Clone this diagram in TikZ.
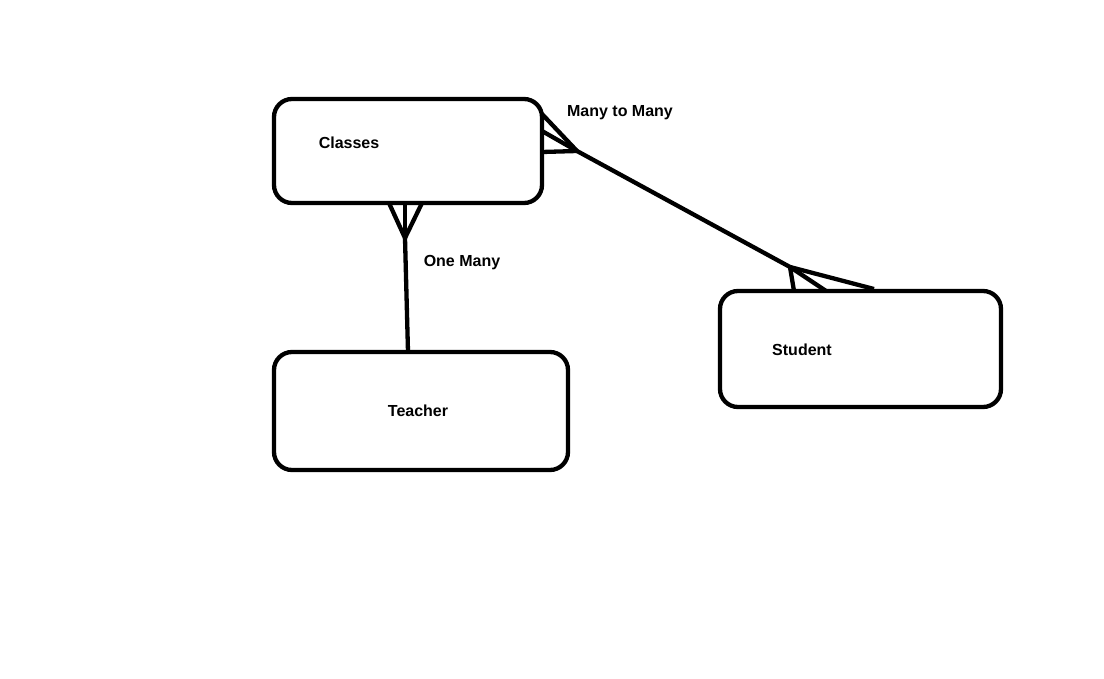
\documentclass[tikz,border=0pt]{standalone}
\usepackage{fontspec}
\setmainfont{Liberation Sans}
\begin{document}
\begin{tikzpicture}[x=1pt,y=-1pt,
  ent/.style={draw=black,line width=4.3pt,rounded corners=18pt,inner sep=0pt},
  lbl/.style={font=\fontsize{16}{19}\selectfont\bfseries,inner sep=0pt},
  conn/.style={line width=4.3pt,line cap=butt}]
\useasboundingbox[fill=white] (0,0) rectangle (1104,679);
% entities
\node[ent,minimum width=268pt,minimum height=104pt] (classes) at (408,151) {};
\node[ent,minimum width=294pt,minimum height=118pt] (teacher) at (421,411) {};
\node[ent,minimum width=281pt,minimum height=116pt] (student) at (860.5,349) {};
\node[lbl] (tclasses) at (349,143) {Classes};
\node[lbl] (tteacher) at (418,411) {Teacher};
\node[lbl] (tstudent) at (802,350) {Student};
\node[lbl] (tmm) at (620,113) {Many to Many};
\node[lbl] (tom) at (462,263) {One Many};
% crow's foot tips
\coordinate (cf1) at (577,151);
\coordinate (cf2) at (790,267);
\coordinate (cf3) at (405,238);
% Classes - Student
\draw[conn] (cf1) -- (cf2);
\draw[conn] (542,114) -- (cf1);
\draw[conn] (542,131) -- (cf1);
\draw[conn] (542,152) -- (cf1);
\draw[conn] (cf2) -- (794,291);
\draw[conn] (cf2) -- (826,291);
\draw[conn] (cf2) -- (874,289);
% Classes - Teacher
\draw[conn] (cf3) -- (408,352);
\draw[conn] (cf3) -- (389,203);
\draw[conn] (cf3) -- (405,203);
\draw[conn] (cf3) -- (422,203);
\end{tikzpicture}
\end{document}
